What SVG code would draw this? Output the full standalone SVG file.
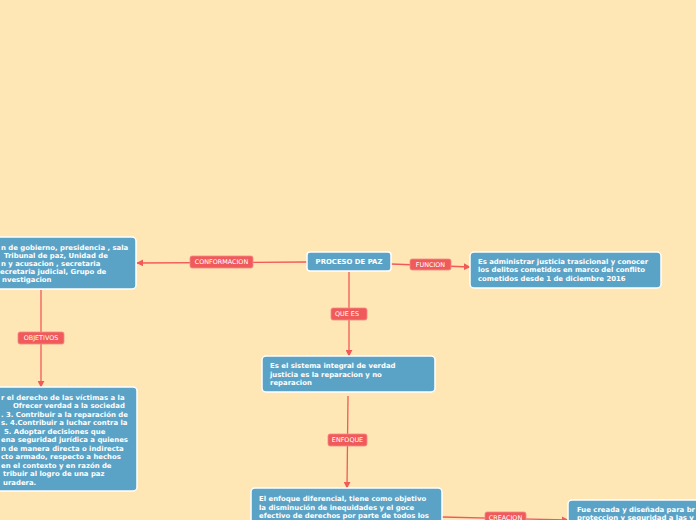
<svg xmlns="http://www.w3.org/2000/svg" width="696" height="520" viewBox="0 0 696 520">
<defs>
<marker id="ah" viewBox="0 0 10 10" refX="9" refY="5" markerWidth="7" markerHeight="7" markerUnits="userSpaceOnUse" orient="auto">
<path d="M0,0 L10,5 L0,10 z" fill="#F05A5A"/>
</marker>
<style>
.bg{fill:#FFE6B5}
.node{fill:#5BA3C6;stroke:#FFFFFF;stroke-width:1.5}
.nt{font-family:"DejaVu Sans",Verdana,sans-serif;font-weight:bold;font-size:6.9px;fill:#FFFFFF}
.ct{font-family:"DejaVu Sans",Verdana,sans-serif;font-weight:bold;font-size:6.9px;fill:#FFFFFF}
.edge{stroke:#F05A5A;stroke-width:1.3;fill:none}
.lab{fill:#F05A5A;stroke:#F48A86;stroke-width:0.8}
.lt{font-family:"DejaVu Sans",Verdana,sans-serif;font-size:6.4px;fill:#FFFFFF}
</style>
</defs>
<rect class="bg" x="0" y="0" width="696" height="520"/>
<g id="connectors">
<path class="edge" d="M307,262 L137,263" marker-end="url(#ah)"/>
<path class="edge" d="M391,264 L470,267" marker-end="url(#ah)"/>
<path class="edge" d="M349,272 L349,356" marker-end="url(#ah)"/>
<path class="edge" d="M348,396 L347,488" marker-end="url(#ah)"/>
<path class="edge" d="M442,517 L568,520" marker-end="url(#ah)"/>
<path class="edge" d="M41,290 L41,387" marker-end="url(#ah)"/>
<g id="label-conformacion"><rect class="lab" x="190" y="256" width="63" height="12" rx="2"/><text class="lt" x="221.5" y="264.3" text-anchor="middle">CONFORMACION</text></g>
<g id="label-funcion"><rect class="lab" x="410" y="259" width="41" height="11" rx="2"/><text class="lt" x="430.5" y="266.8" text-anchor="middle">FUNCION</text></g>
<g id="label-quees"><rect class="lab" x="331" y="308" width="36" height="12" rx="2"/><text class="lt" x="347" y="316.3" text-anchor="middle">QUE ES</text></g>
<g id="label-enfoque"><rect class="lab" x="328" y="434" width="39" height="12" rx="2"/><text class="lt" x="347.5" y="442.3" text-anchor="middle">ENFOQUE</text></g>
<g id="label-creacion"><rect class="lab" x="485" y="512" width="41" height="11" rx="2"/><text class="lt" x="505.5" y="519.5" text-anchor="middle">CREACION</text></g>
<g id="label-objetivos"><rect class="lab" x="18" y="332" width="46" height="12" rx="2"/><text class="lt" x="41" y="340.3" text-anchor="middle">OBJETIVOS</text></g>
</g>
<g id="proceso">
<rect class="node" x="307" y="252" width="84" height="19" rx="3"/>
<text class="ct" x="349" y="264.3" text-anchor="middle">PROCESO DE PAZ</text>
</g>
<g id="conformacion">
<rect class="node" x="-20" y="237" width="156" height="52" rx="4"/>
<text class="nt" x="1" y="250">n de gobierno, presidencia , sala</text>
<text class="nt" x="4" y="258">Tribunal de paz, Unidad de</text>
<text class="nt" x="1" y="266">n y acusacion , secretaria</text>
<text class="nt" x="0" y="274">ecretaria judicial, Grupo de</text>
<text class="nt" x="2" y="282">nvestigacion</text>
</g>
<g id="funcion">
<rect class="node" x="470" y="252" width="191" height="36" rx="4"/>
<text class="nt" x="478" y="263.5">Es administrar justicia trasicional y conocer</text>
<text class="nt" x="478" y="272.2">los delitos cometidos en marco del conflito</text>
<text class="nt" x="478" y="280.8">cometidos desde 1 de diciembre 2016</text>
</g>
<g id="quees">
<rect class="node" x="262" y="356" width="173" height="36" rx="4"/>
<text class="nt" x="270" y="368.2">Es el sistema integral de verdad</text>
<text class="nt" x="270" y="376.5">justicia es la reparacion y no</text>
<text class="nt" x="270" y="384.8">reparacion</text>
</g>
<g id="enfoque">
<rect class="node" x="251" y="488" width="191" height="45" rx="4"/>
<text class="nt" x="259" y="500.8">El enfoque diferencial, tiene como objetivo</text>
<text class="nt" x="259" y="509.5">la disminución de inequidades y el goce</text>
<text class="nt" x="259" y="518.2">efectivo de derechos por parte de todos los</text>
</g>
<g id="creacion">
<rect class="node" x="568" y="500" width="150" height="40" rx="4"/>
<text class="nt" x="577" y="511.5">Fue creada y diseñada para br</text>
<text class="nt" x="577" y="520">proteccion y seguridad a las v</text>
</g>
<g id="objetivos">
<rect class="node" x="-20" y="387" width="157" height="104" rx="4"/>
<text class="nt" x="1" y="399.8">r el derecho de las víctimas a la</text>
<text class="nt" x="13" y="408.3">Ofrecer verdad a la sociedad</text>
<text class="nt" x="1" y="416.8">. 3. Contribuir a la reparación de</text>
<text class="nt" x="1" y="425.3">s. 4.Contribuir a luchar contra la</text>
<text class="nt" x="4" y="433.8">5. Adoptar decisiones que</text>
<text class="nt" x="1" y="442.3">ena seguridad jurídica a quienes</text>
<text class="nt" x="1" y="450.8">n de manera directa o indirecta</text>
<text class="nt" x="1" y="459.3">cto armado, respecto a hechos</text>
<text class="nt" x="1" y="467.8">en el contexto y en razón de</text>
<text class="nt" x="3" y="476.3">tribuir al logro de una paz</text>
<text class="nt" x="3" y="484.8">uradera.</text>
</g>
</svg>
